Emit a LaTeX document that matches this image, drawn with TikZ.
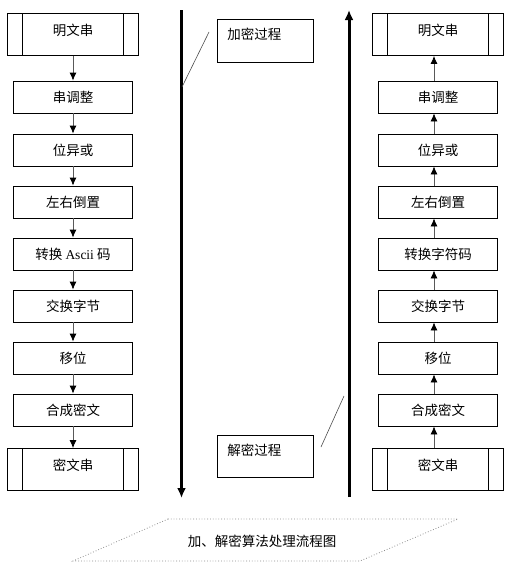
\documentclass[tikz,border=0pt]{standalone}
\usepackage{fontspec}
\setmainfont{Liberation Serif}
\newfontfamily\cjk{Noto Sans CJK SC}
\usetikzlibrary{arrows.meta}

\begin{document}
\begin{tikzpicture}[x=1pt, y=-1pt,
        font=\cjk\fontsize{13.5}{16}\selectfont,
        stepbox/.style={draw, line width=0.8pt, minimum width=119pt, minimum height=32pt, inner sep=0pt},
        endbox/.style={draw, line width=0.8pt, minimum width=131pt, minimum height=42pt, inner sep=0pt,
            text height=11pt, text depth=9pt,
            path picture={\draw[line width=0.8pt]
                ([xshift=15pt]path picture bounding box.north west) -- ([xshift=15pt]path picture bounding box.south west)
                ([xshift=-15pt]path picture bounding box.north east) -- ([xshift=-15pt]path picture bounding box.south east);}},
        notebox/.style={draw, line width=0.8pt, minimum height=43pt, inner xsep=10pt, text width=76pt, align=left,
            text height=11pt, text depth=13pt},
        flow/.style={draw=black!65, line width=0.8pt, -{Latex[length=8pt, width=7pt, color=black]}},
        axis/.style={line width=3pt, -{Latex[length=10pt, width=9pt]}},
        pointer/.style={draw=black!70, line width=0.6pt}]
    \useasboundingbox (0,0) rectangle (516,570);

    % left column
    \node[endbox] (lplain) at (73,34.5) {明文串};
    \node[stepbox] (l1) at (73,97) {串调整};
    \node[stepbox] (l2) at (73,150) {位异或};
    \node[stepbox] (l3) at (73,202) {左右倒置};
    \node[stepbox] (l4) at (73,254) {转换 {\rmfamily Ascii} 码};
    \node[stepbox] (l5) at (73,306) {交换字节};
    \node[stepbox] (l6) at (73,358) {移位};
    \node[stepbox] (l7) at (73,410) {合成密文};
    \node[endbox] (lcipher) at (73,469.5) {密文串};
    \foreach \a/\b in {lplain/l1, l1/l2, l2/l3, l3/l4, l4/l5, l5/l6, l6/l7, l7/lcipher}
        \draw[flow] (\a.south) -- (\b.north);

    % right column
    \node[endbox] (rplain) at (438,34.5) {明文串};
    \node[stepbox] (r1) at (438,97) {串调整};
    \node[stepbox] (r2) at (438,150) {位异或};
    \node[stepbox] (r3) at (438,202) {左右倒置};
    \node[stepbox] (r4) at (438,254) {转换字符码};
    \node[stepbox] (r5) at (438,306) {交换字节};
    \node[stepbox] (r6) at (438,358) {移位};
    \node[stepbox] (r7) at (438,410) {合成密文};
    \node[endbox] (rcipher) at (438,469.5) {密文串};
    \foreach \a/\b in {rcipher/r7, r7/r6, r6/r5, r5/r4, r4/r3, r3/r2, r2/r1, r1/rplain}
        \draw[flow] ([xshift=-4pt]\a.north) -- ([xshift=-4pt]\b.south);

    % process axes
    \coordinate (encTop) at (181.5,10);
    \coordinate (encEnd) at (181.5,498);
    \coordinate (decStart) at (349,497);
    \coordinate (decTop) at (349,10);
    \draw[axis] (encTop) -- (encEnd);
    \draw[axis] (decStart) -- (decTop);

    % callouts
    \node[notebox, anchor=north west] (encnote) at (217,19) {加密过程};
    \coordinate (encTail) at (209,32);
    \coordinate (encHit) at (182,87);
    \draw[pointer] (encTail) -- (encHit);
    \node[notebox, minimum height=42pt, text depth=12pt, anchor=north west] (decnote) at (217,435) {解密过程};
    \coordinate (decTail) at (321,447);
    \coordinate (decHit) at (344,396);
    \draw[pointer] (decTail) -- (decHit);

    % caption
    \draw[black!45, dotted, line width=0.8pt] (168,519) -- (458,519) -- (360,561) -- (73,561) -- cycle;
    \node (caption) at (262,541) {加、解密算法处理流程图};
\end{tikzpicture}
\end{document}
